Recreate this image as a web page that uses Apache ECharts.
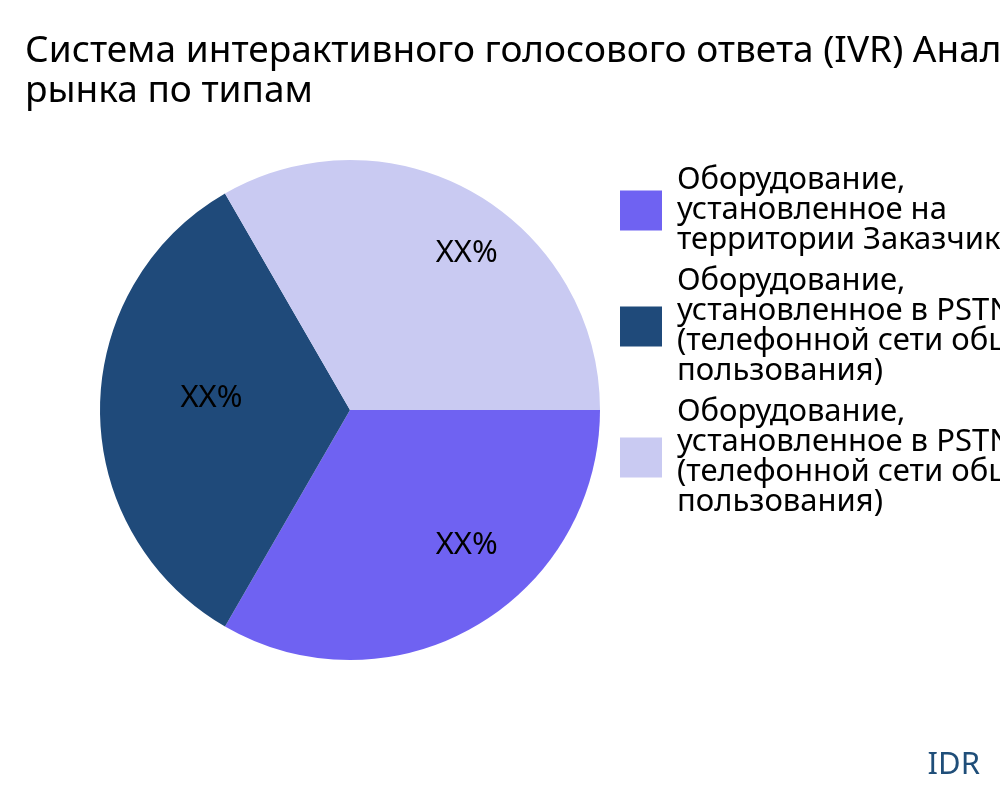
<!DOCTYPE html>
<html><head><meta charset="utf-8">
<script src="https://cdn.jsdelivr.net/npm/echarts@6/dist/echarts.min.js"></script>
<style>body{margin:0}#main{width:1000px;height:800px}</style>
</head><body><div id="main"></div>
<script>
var names = [
  'Оборудование,\nустановленное на\nтерритории Заказчика',
  'Оборудование,\nустановленное в PSTN\n(телефонной сети общего\nпользования)',
  'Оборудование,\nустановленное в PSTN\n(телефонной сети общего\nпользования) '
];
var values = [1, 1, 1];
var labels = ['XX%', 'XX%', 'XX%'];
var colors = ['#6f62f2', '#1f4a7a', '#c9caf2'];
// сдвиг подписей внутри секторов
var labelOffsets = [[19, -34], [57, -12], [19, 12]];

var data = names.map(function (n, i) { return {name: n, value: values[i]}; });
var chart = echarts.init(document.getElementById('main'));
chart.setOption({
  animation: false,
  color: colors,
  textStyle: {fontFamily: 'Noto Sans'},
  title: {
    text: 'Система интерактивного голосового ответа (IVR) Анализ\nрынка по типам',
    left: 20, top: 26,
    textStyle: {fontSize: 37, fontWeight: 'normal', color: '#000', lineHeight: 40, fontFamily: 'Noto Sans'}
  },
  legend: {
    orient: 'vertical', left: 615, top: 160,
    icon: 'rect',
    itemWidth: 42, itemHeight: 40, itemGap: 10,
    selectedMode: false,
    textStyle: {fontSize: 31, lineHeight: 30, color: '#000', fontFamily: 'Noto Sans', padding: [0, 0, 0, 10]},
    data: names
  },
  graphic: [{
    type: 'text', right: 20, top: 750,
    style: {text: 'IDR', fontSize: 31, fill: '#1f4e79', fontFamily: 'Noto Sans'}
  }],
  series: [{
    type: 'pie', center: [350, 410], radius: [0, 250],
    startAngle: 0, clockwise: true,
    label: {show: false}, labelLine: {show: false},
    data: data
  }, {
    type: 'pie', center: [350, 410], radius: [135, 250],
    startAngle: 0, clockwise: true, silent: true,
    itemStyle: {color: 'rgba(0,0,0,0)'},
    label: {position: 'inside', fontSize: 31, color: '#000', fontFamily: 'Noto Sans',
      formatter: function (p) { return labels[p.dataIndex]; }},
    data: values.map(function (v, i) {
      return {name: 'l' + i, value: v, label: {offset: labelOffsets[i]}};
    })
  }]
});
</script></body></html>
